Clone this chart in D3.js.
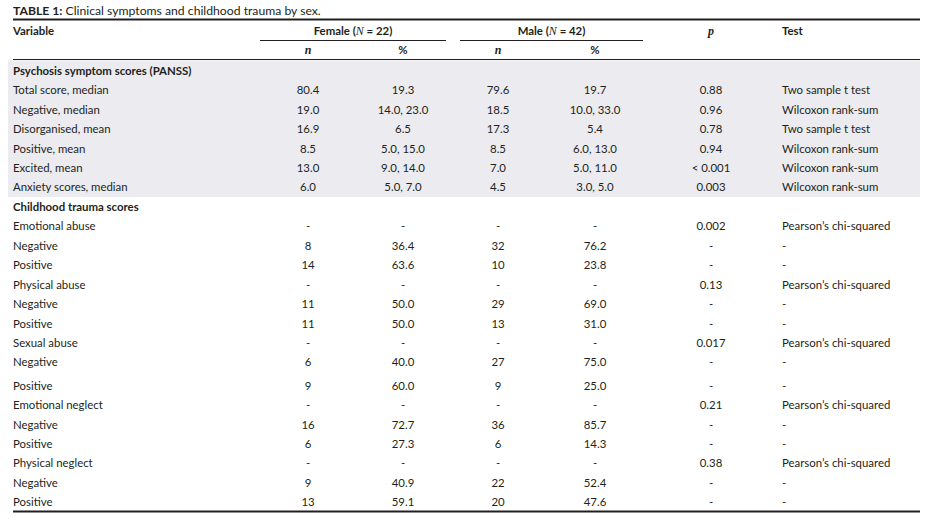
<!DOCTYPE html>
<html><head><meta charset="utf-8">
<script src="https://cdn.jsdelivr.net/npm/d3@7/dist/d3.min.js"></script>
<style>
html,body{margin:0;padding:0;background:#fff;}
svg{display:block;}
text{font-family:Lato,"Open Sans",sans-serif;font-size:11.4px;fill:#231f20;}
.b{font-weight:700;}
.it{font-family:"Liberation Serif","DejaVu Serif",serif;font-style:italic;font-size:12px;}
.title{font-size:12.2px;}
</style></head><body>
<script>
const titleBold = "TABLE 1:";
const titleText = " Clinical symptoms and childhood trauma by sex.";
const groups = ["Female", "Male"];
const groupN = [22, 42];
const subHeaders = ["n", "%"];

const variables = ["Psychosis symptom scores (PANSS)","Total score, median","Negative, median","Disorganised, mean","Positive, mean","Excited, mean","Anxiety scores, median","Childhood trauma scores","Emotional abuse","Negative","Positive","Physical abuse","Negative","Positive","Sexual abuse","Negative","Positive","Emotional neglect","Negative","Positive","Physical neglect","Negative","Positive"];
const isSection = [1,0,0,0,0,0,0,1,0,0,0,0,0,0,0,0,0,0,0,0,0,0,0];
const femaleN   = ["","80.4","19.0","16.9","8.5","13.0","6.0","","-","8","14","-","11","11","-","6","9","-","16","6","-","9","13"];
const femalePct = ["","19.3","14.0, 23.0","6.5","5.0, 15.0","9.0, 14.0","5.0, 7.0","","-","36.4","63.6","-","50.0","50.0","-","40.0","60.0","-","72.7","27.3","-","40.9","59.1"];
const maleN     = ["","79.6","18.5","17.3","8.5","7.0","4.5","","-","32","10","-","29","13","-","27","9","-","36","6","-","22","20"];
const malePct   = ["","19.7","10.0, 33.0","5.4","6.0, 13.0","5.0, 11.0","3.0, 5.0","","-","76.2","23.8","-","69.0","31.0","-","75.0","25.0","-","85.7","14.3","-","52.4","47.6"];
const pValues   = ["","0.88","0.96","0.78","0.94","< 0.001","0.003","","0.002","-","-","0.13","-","-","0.017","-","-","0.21","-","-","0.38","-","-"];
const tests     = ["","Two sample t test","Wilcoxon rank-sum","Two sample t test","Wilcoxon rank-sum","Wilcoxon rank-sum","Wilcoxon rank-sum","","Pearson\u2019s chi-squared","-","-","Pearson\u2019s chi-squared","-","-","Pearson\u2019s chi-squared","-","-","Pearson\u2019s chi-squared","-","-","Pearson\u2019s chi-squared","-","-"];

const W = 943, H = 522;
const svg = d3.select("body").append("svg").attr("width", W).attr("height", H);

const colX = d3.scaleOrdinal()
  .domain(["var","fn","fp","mn","mp","p","test"])
  .range([13, 308, 403, 498, 595, 711, 782]);
const y = d3.scaleLinear().domain([0, 15, 16, 22]).range([72, 363.5, 387, 503]);
const left = 13, right = 920;

// shading
svg.append("rect").attr("x", 8).attr("y", 60.5)
  .attr("width", right - 8).attr("height", 197 - 60.5)
  .attr("fill", "#ebebf0");

// title
const t = svg.append("text").attr("class", "title").attr("x", left).attr("y", 12).attr("dominant-baseline", "middle");
t.append("tspan").attr("class", "b").text(titleBold);
t.append("tspan").text(titleText);

// rules
svg.append("line").attr("x1", left).attr("x2", right).attr("y1", 19.5).attr("y2", 19.5).attr("stroke", "#231f20").attr("stroke-width", 2);
svg.append("line").attr("x1", left).attr("x2", right).attr("y1", 59.5).attr("y2", 59.5).attr("stroke", "#231f20").attr("stroke-width", 1.2);
svg.append("line").attr("x1", left).attr("x2", right).attr("y1", 511.5).attr("y2", 511.5).attr("stroke", "#231f20").attr("stroke-width", 2);

// group headers
const groupSpan = [[260, 446], [460, 643]];
groups.forEach((g, i) => {
  const cx = (groupSpan[i][0] + groupSpan[i][1]) / 2;
  const tx = svg.append("text").attr("x", cx).attr("y", 32).attr("text-anchor", "middle").attr("dominant-baseline", "middle").attr("class", "b");
  tx.append("tspan").text(g + " (");
  tx.append("tspan").attr("class", "it").style("font-weight", "400").text("N");
  tx.append("tspan").text(" = " + groupN[i] + ")");
  svg.append("line").attr("x1", groupSpan[i][0]).attr("x2", groupSpan[i][1]).attr("y1", 40.5).attr("y2", 40.5).attr("stroke", "#231f20").attr("stroke-width", 1.2);
});
svg.append("text").attr("x", left).attr("y", 32).attr("dominant-baseline", "middle").attr("class", "b").text("Variable");
svg.append("text").attr("x", colX("p")).attr("y", 32).attr("text-anchor", "middle").attr("dominant-baseline", "middle").attr("class", "it").style("font-weight","700").text("p");
svg.append("text").attr("x", colX("test")).attr("y", 32).attr("dominant-baseline", "middle").attr("class", "b").text("Test");
[["fn", subHeaders[0], "it"], ["fp", subHeaders[1], "b"], ["mn", subHeaders[0], "it"], ["mp", subHeaders[1], "b"]].forEach(([k, s, c]) => {
  svg.append("text").attr("x", colX(k)).attr("y", 51).attr("text-anchor", "middle").attr("dominant-baseline", "middle").attr("class", c).style("font-weight", "700").text(s);
});

// body
const rows = variables.map((v, i) => ({v, i, sec: isSection[i], fn: femaleN[i], fp: femalePct[i], mn: maleN[i], mp: malePct[i], p: pValues[i], test: tests[i]}));
const g = svg.append("g").selectAll("g").data(rows).join("g").attr("transform", d => `translate(0,${y(d.i)})`);
g.append("text").attr("x", colX("var")).attr("dominant-baseline", "middle").attr("class", d => d.sec ? "b" : null).text(d => d.v);
["fn","fp","mn","mp","p"].forEach(k => {
  g.append("text").attr("x", colX(k)).attr("text-anchor", "middle").attr("dominant-baseline", "middle").text(d => d[k]);
});
g.append("text").attr("x", colX("test")).attr("dominant-baseline", "middle").text(d => d.test);
</script>
</body></html>
